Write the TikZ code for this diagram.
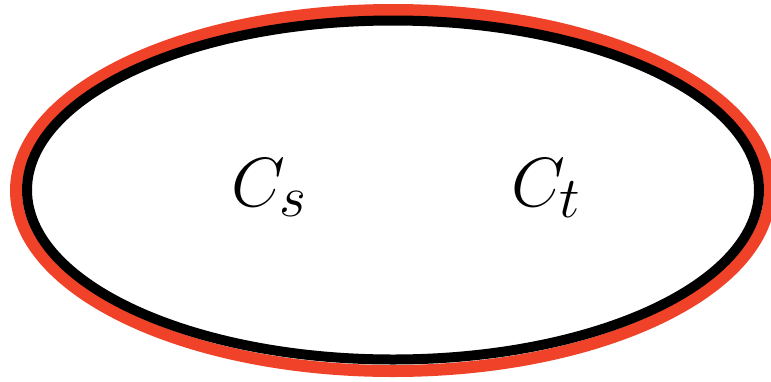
\documentclass[tikz,border=0pt]{standalone}
\usepackage{amsmath}
\usepackage{xcolor}
\definecolor{rimred}{RGB}{240,66,40}
\usetikzlibrary{calc}

\begin{document}
\begin{tikzpicture}[x=0.5pt,y=-0.5pt]
\useasboundingbox (0,0) rectangle (771,381);
\draw[rimred,line width=6pt](393,190.5) ellipse (377 and 180.5);
\draw[black,line width=5pt](393,190) ellipse (366 and 169.5);
\node[anchor=base,inner sep=0pt,font=\Huge,scale=1.4] (cs) at (269.5,206) {$C_s$};
\node[anchor=base,inner sep=0pt,font=\Huge,scale=1.4] (ct) at (546.5,206) {$C_t$};
\end{tikzpicture}
\end{document}
